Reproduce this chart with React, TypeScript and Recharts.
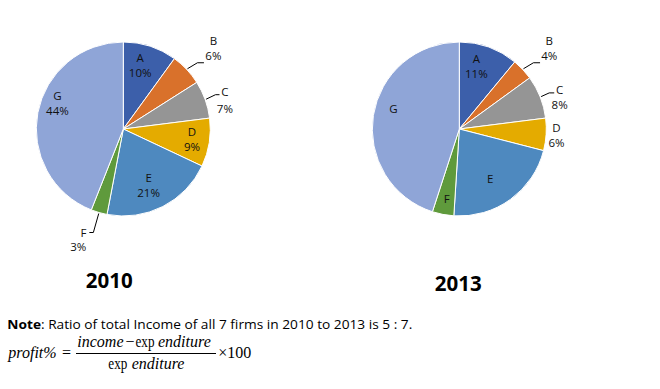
import { PieChart, Pie, Cell } from 'recharts';

const firms = ['A', 'B', 'C', 'D', 'E', 'F', 'G'];
const share2010 = [10, 6, 7, 9, 21, 3, 44];
const share2013 = [11, 4, 8, 6, 22, 4, 45];
const years = ['2010', '2013'];

const firmColors = ['#3C5FAA', '#D9712B', '#959595', '#E4AB00', '#4E89BF', '#5F9A3C', '#8FA5D7'];

type Place =
  | { kind: 'in'; r: number; da: number; pct: boolean }
  | { kind: 'lead'; ex: number; ey: number; hx: number; tx: number; ty1: number; ty2: number; anchor: 'middle' | 'end' };

// label placement, roughly what Excel's "best fit" did
const places2010: Record<string, Place> = {
  A: { kind: 'in', r: 0.75, da: -3, pct: true },
  B: { kind: 'lead', ex: 10, ey: -6, hx: 6.5, tx: 9.4, ty1: -21.6, ty2: -6.6, anchor: 'middle' },
  C: { kind: 'lead', ex: 9.4, ey: -4.5, hx: 4, tx: 5.4, ty1: -2.3, ty2: 14, anchor: 'middle' },
  D: { kind: 'in', r: 0.8, da: 0, pct: true },
  E: { kind: 'in', r: 0.715, da: 3, pct: true },
  F: { kind: 'lead', ex: -5.4, ey: 19, hx: -4, tx: -3, ty1: 0, ty2: 14.5, anchor: 'end' },
  G: { kind: 'in', r: 0.81, da: 10, pct: true },
};

const places2013: Record<string, Place> = {
  A: { kind: 'in', r: 0.74, da: -4.4, pct: true },
  B: { kind: 'lead', ex: 10, ey: -6, hx: 6.6, tx: 9.2, ty1: -21.6, ty2: -6.6, anchor: 'middle' },
  C: { kind: 'lead', ex: 8.1, ey: -3.7, hx: 5, tx: 5.4, ty1: -3.3, ty2: 11.7, anchor: 'middle' },
  D: { kind: 'in', r: 1.12, da: 0.4, pct: true },
  E: { kind: 'in', r: 0.68, da: 4.6, pct: false },
  F: { kind: 'in', r: 0.82, da: -0.6, pct: false },
  G: { kind: 'in', r: 0.79, da: 7.6, pct: false },
};

const RAD = Math.PI / 180;
const labelFont = { fontFamily: 'Open Sans', fontSize: 11.5, fill: '#111' };

function makeLabel(places: Record<string, Place>) {
  return (props: any) => {
    const { cx, cy, midAngle, outerRadius, index, value } = props;
    const name = firms[index];
    const p = places[name];
    if (!p) return null;
    if (p.kind === 'in') {
      const a = (midAngle - p.da) * RAD;
      const x = cx + outerRadius * p.r * Math.cos(-a);
      const y = cy + outerRadius * p.r * Math.sin(-a);
      if (!p.pct) {
        return (
          <text x={x} y={y + 4} textAnchor="middle" {...labelFont}>{name}</text>
        );
      }
      return (
        <g>
          <text x={x} y={y - 7.5 + 4} textAnchor="middle" {...labelFont}>{name}</text>
          <text x={x} y={y + 7.5 + 4} textAnchor="middle" {...labelFont}>{value}%</text>
        </g>
      );
    }
    const a = midAngle * RAD;
    const sx = cx + (outerRadius + 1) * Math.cos(-a);
    const sy = cy + (outerRadius + 1) * Math.sin(-a);
    const bx = sx + p.ex;
    const by = sy + p.ey;
    const endX = bx + p.hx;
    return (
      <g>
        <polyline points={`${sx},${sy} ${bx},${by} ${endX},${by}`} fill="none" stroke="#000" strokeWidth={1} />
        <text x={endX + p.tx} y={by + p.ty1 + 4} textAnchor={p.anchor} {...labelFont}>{name}</text>
        <text x={endX + p.tx} y={by + p.ty2 + 4} textAnchor={p.anchor} {...labelFont}>{value}%</text>
      </g>
    );
  };
}

const data2010 = firms.map((name, i) => ({ name, value: share2010[i] }));
const data2013 = firms.map((name, i) => ({ name, value: share2013[i] }));

const serif = { fontFamily: 'Liberation Serif', fontSize: 16, fill: '#000' };

export default function App() {
  return (
    <div style={{ position: 'absolute', left: 0, top: 0, width: 660, height: 389, background: '#fff' }}>
      <svg width={660} height={389} style={{ position: 'absolute', left: 0, top: 0 }}>
        <text x={109.3} y={288} textAnchor="middle" fontFamily="Open Sans" fontWeight="bold" fontSize={20.5} fill="#000">
          {years[0]}
        </text>
        <text x={458.3} y={290.8} textAnchor="middle" fontFamily="Open Sans" fontWeight="bold" fontSize={20.5} fill="#000">
          {years[1]}
        </text>

        <text x={7.3} y={329.3} fontFamily="Open Sans" fontSize={13} fill="#000" textLength={405} lengthAdjust="spacingAndGlyphs">
          <tspan fontWeight="bold">Note</tspan>: Ratio of total Income of all 7 firms in 2010 to 2013 is 5 : 7.
        </text>

        {/* profit formula */}
        <text x={8.3} y={358.3} {...serif} fontStyle="italic">profit%</text>
        <text x={62} y={358.3} {...serif}>=</text>
        <text x={77.3} y={347.3} {...serif} fontStyle="italic">income</text>
        <text x={125.5} y={347.3} {...serif}>−</text>
        <text x={135.5} y={347.3} {...serif} textLength={19} lengthAdjust="spacingAndGlyphs">exp</text>
        <text x={158} y={347.3} {...serif} fontStyle="italic">enditure</text>
        <line x1={76} x2={216} y1={353.5} y2={353.5} stroke="#000" strokeWidth={1} />
        <text x={108.3} y={369.3} {...serif} textLength={19} lengthAdjust="spacingAndGlyphs">exp</text>
        <text x={131.7} y={369.3} {...serif} fontStyle="italic">enditure</text>
        <text x={218.3} y={358.3} {...serif}>×100</text>
      </svg>

      <div style={{ position: 'absolute', left: 0, top: 0 }}>
        <PieChart width={660} height={262} margin={{ top: 0, right: 0, bottom: 0, left: 0 }}>
          <Pie
            data={data2010}
            dataKey="value"
            nameKey="name"
            cx={123.3}
            cy={129}
            outerRadius={87}
            startAngle={90}
            endAngle={-270}
            stroke="#fff"
            strokeWidth={1}
            label={makeLabel(places2010)}
            labelLine={false}
            isAnimationActive={false}
          >
            {data2010.map((d, i) => (
              <Cell key={`c10-${d.name}`} fill={firmColors[i]} />
            ))}
          </Pie>
          <Pie
            data={data2013}
            dataKey="value"
            nameKey="name"
            cx={459.3}
            cy={129}
            outerRadius={87}
            startAngle={90}
            endAngle={-270}
            stroke="#fff"
            strokeWidth={1}
            label={makeLabel(places2013)}
            labelLine={false}
            isAnimationActive={false}
          >
            {data2013.map((d, i) => (
              <Cell key={`c13-${d.name}`} fill={firmColors[i]} />
            ))}
          </Pie>
        </PieChart>
      </div>
    </div>
  );
}
